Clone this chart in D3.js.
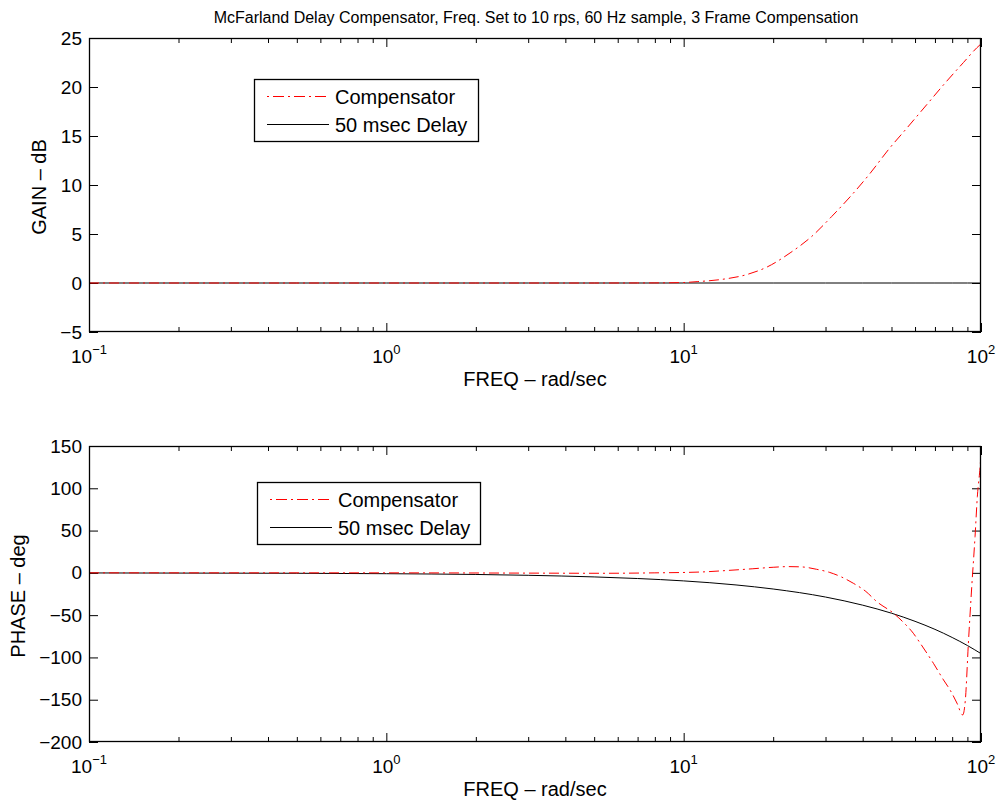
<!DOCTYPE html>
<html>
<head>
<meta charset="utf-8">
<script src="https://cdn.jsdelivr.net/npm/d3@7"></script>
<style>
  html, body { margin: 0; padding: 0; background: #fff; }
  svg { display: block; font-family: "Liberation Sans", Arial, Helvetica, sans-serif; }
</style>
</head>
<body>
<svg id="chart" width="1000" height="800"></svg>
<script>
// ---------------- data ----------------
const titleText = "McFarland Delay Compensator, Freq. Set to 10 rps, 60 Hz sample, 3 Frame Compensation";
const seriesNames = ["Compensator", "50 msec Delay"];
const xMajorTicks = [0.1, 1, 10, 100];
const xMajorExponents = ["\u22121", "0", "1", "2"];
const gainTicks = [-5, 0, 5, 10, 15, 20, 25];
const phaseTicks = [-200, -150, -100, -50, 0, 50, 100, 150];

// Compensator gain (dB) vs frequency (rad/sec)
const freqGainComp = [0.1, 1, 5, 8, 10, 11.1, 13.3, 16.3, 19.1, 22.8, 27, 31.5, 36.8, 42.4, 48.8, 56.3, 65.7, 75.7, 87.3, 96.8, 100];
const gainComp     = [0, 0, 0, 0.01, 0.05, 0.14, 0.35, 0.86, 1.64, 3.07, 4.77, 6.8, 9.0, 11.2, 13.6, 15.8, 18.2, 20.4, 22.5, 24.0, 24.4];

// Compensator phase (deg) vs frequency (rad/sec)
const freqPhaseComp = [0.1, 1, 3, 5.2, 8, 11.4, 14, 17, 20, 22.5, 25, 28, 31, 34, 37.2, 41, 44.6, 50.8, 55, 59.2, 62.4, 69.2, 74.8, 78.7, 83, 86.8, 88.6, 90.7, 93.1, 95.5, 97.2, 99.3, 100];
const phaseComp     = [0, 0, -0.3, -0.5, 0, 1.0, 2.8, 4.8, 6.6, 7.4, 7.0, 4.2, 0.5, -5, -12.3, -22, -34, -47.8, -59, -71.4, -83, -107, -126.6, -138.5, -154, -168, -150, -83, -16, 43, 90, 125, 140];

// 50 msec delay: gain (dB) and phase (deg) vs frequency (rad/sec)
const freqDelay  = [0.1, 0.5, 1, 2, 3, 5, 7, 10, 15, 20, 30, 40, 50, 60, 70, 80, 90, 100];
const gainDelay  = [0, 0, 0, 0, 0, 0, 0, 0, 0, 0, 0, 0, 0, 0, 0, 0, 0, 0];
const phaseDelay = [-0.1, -0.5, -1.0, -1.9, -2.9, -4.8, -6.7, -9.5, -14.3, -19.1, -28.6, -38.2, -47.7, -57.3, -66.8, -76.4, -85.9, -95.5];

// ---------------- layout ----------------
const svg = d3.select("#chart");
const left = 89, right = 981;
const panels = [
  { top: 38, bottom: 332, domain: [-5, 25], ticks: gainTicks, ylabel: "GAIN \u2013 dB", ylabelX: 46,
    comp: [freqGainComp, gainComp], delay: [freqDelay, gainDelay],
    legend: { x: 254, y: 79, w: 224, h: 62 } },
  { top: 446, bottom: 742, domain: [-200, 150], ticks: phaseTicks, ylabel: "PHASE \u2013 deg", ylabelX: 25,
    comp: [freqPhaseComp, phaseComp], delay: [freqDelay, phaseDelay],
    legend: { x: 257, y: 482, w: 223, h: 62 } }
];

const x = d3.scaleLog().domain([0.1, 100]).range([left, right]);
const minorTicks = [];
[0.1, 1, 10].forEach(d => { for (let k = 2; k <= 9; k++) minorTicks.push(+(d * k).toPrecision(3)); });

const fmtNum = v => (v < 0 ? "\u2212" + Math.abs(v) : String(v));
const redDash = "10,4,2,4";

svg.append("text")
  .attr("x", 536).attr("y", 23)
  .attr("text-anchor", "middle")
  .attr("font-size", 16)
  .text(titleText);

panels.forEach((p, pi) => {
  const y = d3.scaleLinear().domain(p.domain).range([p.bottom, p.top]);
  const g = svg.append("g");
  const clipId = "clip" + pi;
  g.append("clipPath").attr("id", clipId).append("rect")
    .attr("x", left).attr("y", p.top - 1).attr("width", right - left).attr("height", p.bottom - p.top + 2);

  // minor x ticks (bottom & top, inside)
  const xb = g.append("g").attr("transform", `translate(0,${p.bottom})`)
    .call(d3.axisBottom(x).tickValues(minorTicks).tickSize(-5).tickFormat(""));
  const xt = g.append("g").attr("transform", `translate(0,${p.top})`)
    .call(d3.axisTop(x).tickValues(minorTicks).tickSize(-5).tickFormat(""));
  // major x ticks
  const xbm = g.append("g").attr("transform", `translate(0,${p.bottom})`)
    .call(d3.axisBottom(x).tickValues(xMajorTicks).tickSize(-9).tickFormat(""));
  const xtm = g.append("g").attr("transform", `translate(0,${p.top})`)
    .call(d3.axisTop(x).tickValues(xMajorTicks).tickSize(-9).tickFormat(""));
  // y ticks left with labels & right
  const yl = g.append("g").attr("transform", `translate(${left},0)`)
    .call(d3.axisLeft(y).tickValues(p.ticks).tickSize(-9).tickPadding(7).tickFormat(fmtNum));
  const yr = g.append("g").attr("transform", `translate(${right},0)`)
    .call(d3.axisRight(y).tickValues(p.ticks).tickSize(-9).tickFormat(""));

  [xb, xt, xbm, xtm, yl, yr].forEach(a => {
    a.select(".domain").remove();
    a.selectAll("line").attr("stroke", "#000").attr("stroke-width", 1);
  });
  yl.selectAll("text").attr("font-size", 19).attr("fill", "#000")
    .attr("font-family", "Liberation Sans, Arial, sans-serif");

  // x tick labels with superscript exponents
  const lbl = g.append("g");
  xMajorTicks.forEach((v, i) => {
    const t = lbl.append("text")
      .attr("x", x(v)).attr("y", p.bottom + 31)
      .attr("text-anchor", "middle").attr("font-size", 19);
    t.append("tspan").text("10");
    t.append("tspan").attr("font-size", 13).attr("dy", -9).text(xMajorExponents[i]);
  });

  // x label
  g.append("text").attr("x", 535).attr("y", p.bottom + 54)
    .attr("text-anchor", "middle").attr("font-size", 20).text("FREQ \u2013 rad/sec");
  // y label
  g.append("text")
    .attr("transform", `translate(${p.ylabelX},${(p.top + p.bottom) / 2 + 2}) rotate(-90)`)
    .attr("text-anchor", "middle").attr("font-size", 20).text(p.ylabel);

  // lines
  const line = d3.line().x(d => x(d[0])).y(d => y(d[1])).curve(d3.curveMonotoneX);
  const delayData = p.delay[0].map((f, i) => [f, p.delay[1][i]]);
  const compData = p.comp[0].map((f, i) => [f, p.comp[1][i]]);
  const plot = g.append("g").attr("clip-path", `url(#${clipId})`);
  plot.append("path").datum(delayData).attr("d", line)
    .attr("fill", "none").attr("stroke", "#000").attr("stroke-width", 1);
  plot.append("path").datum(compData).attr("d", line)
    .attr("fill", "none").attr("stroke", "#ff0000").attr("stroke-width", 1)
    .attr("stroke-dasharray", redDash);

  // frame
  g.append("rect").attr("x", left + 0.5).attr("y", p.top + 0.5)
    .attr("width", right - left - 1).attr("height", p.bottom - p.top - 1)
    .attr("fill", "none").attr("stroke", "#000").attr("stroke-width", 1.3);

  // legend
  const L = p.legend;
  const lg = g.append("g");
  lg.append("rect").attr("x", L.x + 0.5).attr("y", L.y + 0.5).attr("width", L.w).attr("height", L.h)
    .attr("fill", "#fff").attr("stroke", "#000").attr("stroke-width", 1.3);
  const rows = [
    { name: seriesNames[0], color: "#ff0000", dash: "2,4,11,4" },
    { name: seriesNames[1], color: "#000000", dash: "none" }
  ];
  rows.forEach((r, i) => {
    const ly = L.y + 17.5 + i * 28;
    lg.append("line").attr("x1", L.x + 13).attr("x2", L.x + 75).attr("y1", ly).attr("y2", ly)
      .style("stroke", r.color).style("stroke-width", 1.2)
      .style("stroke-dasharray", r.dash);
    lg.append("text").attr("x", L.x + 81).attr("y", ly + 7)
      .attr("font-size", 20).text(r.name);
  });
});
</script>
</body>
</html>
